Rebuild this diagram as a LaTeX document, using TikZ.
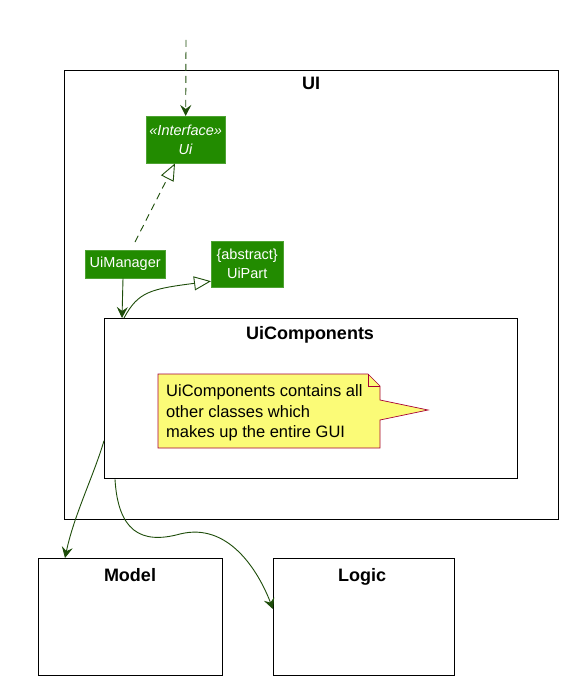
\documentclass[tikz,border=0pt]{standalone}
\usepackage{fontspec}
\setmainfont{Liberation Sans}
\usetikzlibrary{arrows.meta}
\definecolor{ClassGreen}{HTML}{228B00}
\definecolor{ArrowGreen}{HTML}{1E4D0A}
\definecolor{NoteYellow}{HTML}{FBFB77}
\definecolor{NoteRed}{HTML}{A80036}
\tikzset{
  frame/.style={draw=black,line width=1.3pt,fill=white,anchor=north west,inner sep=0pt},
  frametitle/.style={font=\fontsize{18}{20}\selectfont\bfseries,anchor=base,inner sep=0pt},
  classbox/.style={fill=ClassGreen,draw=ClassGreen!80!white,text=white,align=center,
    font=\fontsize{14.5}{19}\selectfont,inner sep=0pt,anchor=north west},
  link/.style={draw=ArrowGreen,line width=0.9pt},
}
\begin{document}
\begin{tikzpicture}[x=1pt,y=-1pt]
  \useasboundingbox[fill=white] (0,0) rectangle (570,687);
  % packages
  \node[frame,minimum width=494pt,minimum height=449pt] (ui) at (64,70) {};
  \node[frametitle] (uititle) at (311,90) {UI};
  \node[frame,minimum width=413pt,minimum height=160pt] (uicomp) at (104,318) {};
  \node[frametitle] (uicomptitle) at (310,339) {UiComponents};
  \node[frame,minimum width=184pt,minimum height=117pt] (model) at (38,558) {};
  \node[frametitle] (modeltitle) at (130,581) {Model};
  \node[frame,minimum width=181pt,minimum height=117pt] (logic) at (273,558) {};
  \node[frametitle] (logictitle) at (362,581) {Logic};
  % classes
  \node[classbox,minimum width=79pt,minimum height=47pt] (ui_if) at (146,116) {\textit{«Interface»}\\\textit{Ui}};
  \node[classbox,minimum width=80pt,minimum height=28pt] (uimanager) at (85,250) {UiManager};
  \node[classbox,minimum width=72pt,minimum height=46pt] (uipart) at (211,241) {\{abstract\}\\UiPart};
  % note
  \draw[draw=NoteRed,fill=NoteYellow,line width=0.7pt] (158,374) -- (368,374) -- (380,386) -- (380,400)
    -- (428,410) -- (380,420) -- (380,448) -- (158,448) -- cycle;
  \draw[draw=NoteRed,line width=0.7pt] (368,374) -- (368,386) -- (380,386);
  \node[anchor=west,align=left,inner sep=0pt,font=\fontsize{16.5}{20.5}\selectfont] (note) at (166,413)
    {UiComponents contains all\\other classes which\\makes up the entire GUI};
  % connectors
  \coordinate (outside) at (186,40);
  \draw[link,dash pattern=on 7pt off 5pt,-{Stealth[length=11pt,width=11pt,inset=4pt]}] (outside) -- (ui_if.north);
  \draw[link,dash pattern=on 7pt off 5pt,-{Triangle[open,length=17pt,width=14pt,fill=white]}]
    ([xshift=50pt,yshift=8pt]uimanager.north west) -- ([xshift=29pt]ui_if.south west);
  \draw[link,-{Stealth[length=11pt,width=11pt,inset=4pt]}] ([xshift=38pt]uimanager.south west) -- ([xshift=18pt]uicomp.north west);
  \draw[link,-{Triangle[open,length=17pt,width=14pt,fill=white]}] ([xshift=20pt]uicomp.north west)
    .. controls (138,292) and (150,289) .. ([yshift=-17pt]uipart.west);
  \draw[link,-{Stealth[length=11pt,width=11pt,inset=4pt]}] ([yshift=-42pt]uicomp.west)
    .. controls (94,475) and (74,515) .. ([xshift=27pt]model.north west);
  \draw[link,-{Stealth[length=11pt,width=11pt,inset=4pt]}] ([xshift=11pt]uicomp.south west)
    .. controls (118,530) and (140,545) .. (180,534) .. controls (228,522) and (258,570) .. ([yshift=8pt]logic.west);
\end{tikzpicture}
\end{document}
